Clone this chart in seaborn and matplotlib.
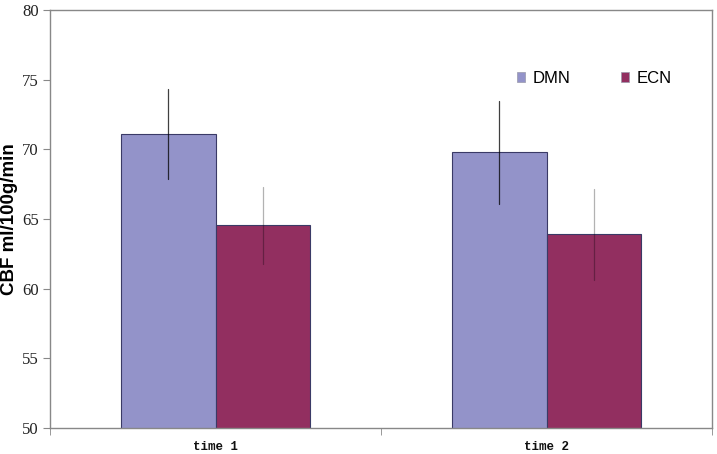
import matplotlib
matplotlib.use('Agg')
import matplotlib.pyplot as plt
import seaborn as sns
import pandas as pd
import numpy as np

# values
times = ['time 1', 'time 2']
networks = ['DMN', 'ECN']
dmn_mean = [71.1, 69.8]
ecn_mean = [64.55, 63.9]
dmn_err = [3.25, 3.7]
ecn_err = [2.75, 3.25]
colors = ['#9393c9', '#922f60']

df = pd.DataFrame({
    'time': times * 2,
    'network': ['DMN'] * 2 + ['ECN'] * 2,
    'cbf': dmn_mean + ecn_mean,
    'err': dmn_err + ecn_err,
})

sns.set_style('white')
plt.rcParams['text.color'] = 'black'
fig = plt.figure(figsize=(7.17, 4.54), dpi=100)
ax = fig.add_axes([50 / 717, 26 / 454, 662 / 717, 418 / 454])

sns.barplot(data=df, x='time', y='cbf', hue='network', hue_order=networks,
            order=times, palette=colors, width=0.57, errorbar=None,
            edgecolor='#3a3a66', linewidth=0.8, saturation=1, ax=ax)

# error bars at the bar centres
for cont, net in zip(ax.containers, networks):
    sub = df[df['network'] == net].set_index('time').loc[times]
    for patch, (m, e) in zip(cont.patches, zip(sub['cbf'], sub['err'])):
        xc = patch.get_x() + patch.get_width() / 2
        ax.plot([xc, xc], [m - e, m + e], color='black',
                alpha=0.75 if net == 'DMN' else 0.3, lw=0.9)

ax.set_ylim(50, 80)
ax.set_xlim(-0.5, 1.5)
ax.set_yticks(np.arange(50, 81, 5))
ax.set_yticklabels([str(v) for v in range(50, 81, 5)], family='Liberation Serif', fontsize=12)
ax.set_xticks([0, 1])
ax.set_xticklabels(times, family='Liberation Mono', fontsize=9, fontweight='bold')
ax.set_xticks([-0.5, 0.5, 1.5], minor=True)
ax.tick_params(axis='x', which='major', length=0, pad=9, labelcolor='#111111')
ax.tick_params(axis='x', which='minor', length=5, direction='out', color='#888888', bottom=True)
ax.tick_params(axis='y', length=5, direction='out', color='#888888', left=True, pad=3,
               labelcolor='#222222')
ax.set_xlabel('')
ax.set_ylabel('CBF ml/100g/min', family='Liberation Sans', fontweight='bold', fontsize=13.5,
              color='black', labelpad=3)

for s in ax.spines.values():
    s.set_color('#888888')
    s.set_linewidth(1.0)

leg = ax.legend(loc='upper left', bbox_to_anchor=(0.683, 0.89), ncol=2, frameon=False,
                handlelength=0.5, handleheight=0.5, columnspacing=3.0, handletextpad=0.45,
                prop={'family': 'Liberation Sans', 'size': 12})
for t in leg.get_texts():
    t.set_color('black')
for h in leg.legend_handles:
    h.set_edgecolor('#9999aa')
    h.set_linewidth(0.5)

fig.savefig('out.png', dpi=100)
